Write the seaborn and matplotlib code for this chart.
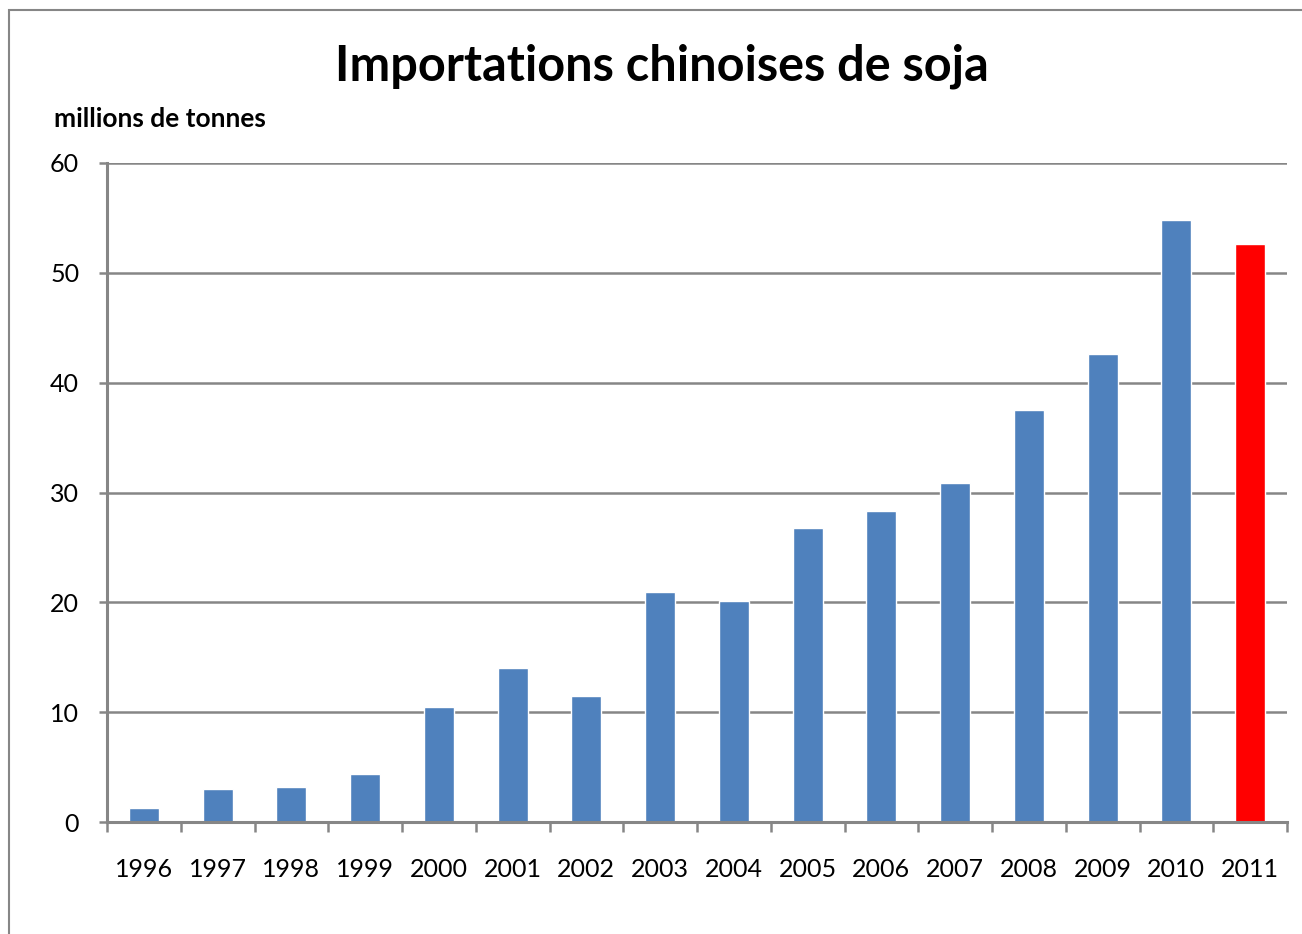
import matplotlib
matplotlib.use("Agg")
import matplotlib.pyplot as plt
import seaborn as sns
import pandas as pd
from matplotlib.patches import Rectangle

years = ["1996", "1997", "1998", "1999", "2000", "2001", "2002", "2003",
         "2004", "2005", "2006", "2007", "2008", "2009", "2010", "2011"]
imports = [1.3, 3.0, 3.2, 4.4, 10.5, 14.0, 11.5, 20.9,
           20.1, 26.8, 28.3, 30.9, 37.5, 42.6, 54.8, 52.6]
bar_colors = ["#4F81BD"] * 15 + ["#FF0000"]
title = "Importations chinoises de soja"
unit_label = "millions de tonnes"
yticks = [0, 10, 20, 30, 40, 50, 60]

sns.set_theme(style="white")
plt.rcParams['font.family'] = ['Lato', 'DejaVu Sans']

df = pd.DataFrame({"year": years, "value": imports})

fig = plt.figure(figsize=(13.02, 9.34), dpi=100)
ax = fig.add_axes([107/1302, 1 - 822/934, (1287-107)/1302, (822-163)/934])

sns.barplot(data=df, x="year", y="value", hue="year", palette=bar_colors,
            legend=False, width=0.41, ax=ax, saturation=1)

grey = "#868686"
ax.set_ylim(0, 60)
ax.set_xlim(-0.5, len(years) - 0.5)
ax.set_yticks(yticks)
ax.set_yticklabels([str(t) for t in yticks], fontsize=18, color="black")
ax.yaxis.grid(True, color=grey, linewidth=1.8)
ax.set_axisbelow(True)
ax.set_xlabel("")
ax.set_ylabel("")
for s in ["top", "right"]:
    ax.spines[s].set_visible(False)
for s in ["left", "bottom"]:
    ax.spines[s].set_color(grey)
    ax.spines[s].set_linewidth(2.2)

ax.tick_params(axis="y", which="both", left=True, length=6, width=1.8,
               color=grey, pad=14, labelcolor="black")
# x ticks at category boundaries
ax.set_xticks([i for i in range(len(years))])
ax.set_xticklabels(years, fontsize=18, color="black")
ax.tick_params(axis="x", which="major", bottom=False, pad=20, labelcolor="black")
ax.set_xticks([i - 0.5 for i in range(len(years) + 1)], minor=True)
ax.tick_params(axis="x", which="minor", bottom=True, length=7, width=1.8, color=grey)

fig.text(662/1302, 1 - 66/934, title, ha="center", va="center",
         fontsize=35, fontweight="bold", color="black")
fig.text(54/1302, 1 - 119/934, unit_label, ha="left", va="center",
         fontsize=19, fontweight="bold", color="black")

fig.patches.append(Rectangle((9/1302, -0.05), 1.1, 1 - 10/934 + 0.05,
                             transform=fig.transFigure, fill=False,
                             edgecolor=grey, linewidth=1.5))

fig.savefig("out.png", dpi=100)
